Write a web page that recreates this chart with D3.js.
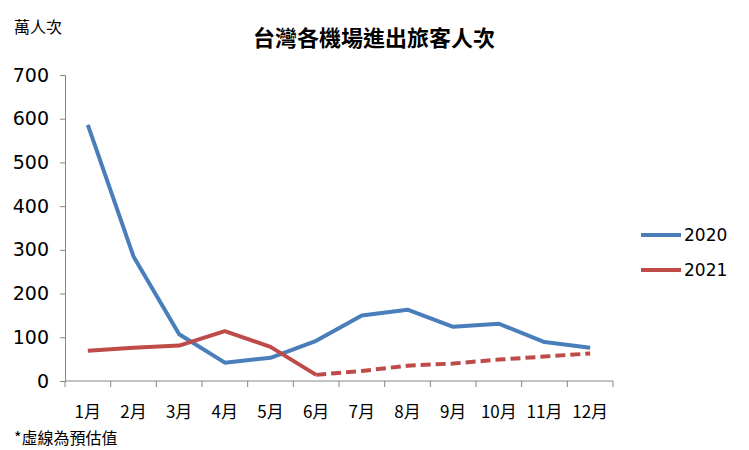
<!DOCTYPE html>
<html><head><meta charset="utf-8">
<script src="https://cdn.jsdelivr.net/npm/d3@7"></script>
<style>
body{margin:0;background:#fff;}
text{font-family:"DejaVu Sans","Noto Sans CJK TC",sans-serif;fill:#000;}
</style></head>
<body><svg id="c" width="749" height="450"></svg>
<script>
const months = ["1月","2月","3月","4月","5月","6月","7月","8月","9月","10月","11月","12月"];
const yTicks = [0,100,200,300,400,500,600,700];
const series2020 = [586,285,107,42,53,92,150,163,124,131,89,76];
const series2021Actual = [69,76,81,114,78,14];
const series2021Estimate = [null,null,null,null,null,14,23,35,40,49,56,63];
const seriesNames = ["2020","2021"];
const colors = ["#4A7EBB","#BE4B48"];

const svg = d3.select("#c");
const pLeft = 65, pRight = 613, pTop = 75, pBottom = 381;

const x = d3.scaleBand().domain(months).range([pLeft,pRight]);
const y = d3.scaleLinear().domain([0,700]).range([pBottom,pTop]);

// Title
svg.append("text").attr("x",374).attr("y",46).attr("text-anchor","middle")
  .style("font-size","22px").style("font-weight","bold")
  .style("font-family","'Noto Sans CJK TC',sans-serif").text("台灣各機場進出旅客人次");
svg.append("text").attr("x",14).attr("y",33)
  .style("font-size","16px").style("font-family","'Noto Sans CJK TC',sans-serif").text("萬人次");
svg.append("text").attr("x",14).attr("y",444)
  .style("font-size","16px").style("font-family","'Noto Sans CJK TC',sans-serif").text("*虛線為預估值");

// Y axis
const yAxis = svg.append("g").attr("transform",`translate(${pLeft},0)`)
  .call(d3.axisLeft(y).tickValues(yTicks).tickSize(5).tickPadding(11));
yAxis.selectAll("text").style("font-size","19px").style("font-family","'DejaVu Sans',sans-serif");
yAxis.select(".domain").attr("stroke","#868686");
yAxis.selectAll(".tick line").attr("stroke","#868686");

// X axis
const xAxis = svg.append("g").attr("transform",`translate(0,${pBottom})`);
xAxis.append("line").attr("x1",pLeft).attr("x2",pRight).attr("y1",0).attr("y2",0).attr("stroke","#868686");
const bounds = months.map(m=>x(m)).concat([pRight]);
xAxis.selectAll("line.tk").data(bounds).enter().append("line").attr("class","tk")
  .attr("x1",d=>d).attr("x2",d=>d).attr("y1",0).attr("y2",6).attr("stroke","#868686");
xAxis.selectAll("text").data(months).enter().append("text")
  .attr("x",d=>x(d)+x.bandwidth()/2).attr("y",37).attr("text-anchor","middle")
  .style("font-size","17px").style("font-family","'Noto Sans CJK TC',sans-serif").text(d=>d);

const cx = (d,i)=>x(months[i])+x.bandwidth()/2;
const line = d3.line().defined(d=>d!==null).x(cx).y(d=>y(d));

svg.append("path").datum(series2020).attr("d",line).attr("fill","none")
  .attr("stroke",colors[0]).attr("stroke-width",4).attr("stroke-linejoin","round");
svg.append("path").datum(series2021Actual).attr("d",line).attr("fill","none")
  .attr("stroke",colors[1]).attr("stroke-width",4).attr("stroke-linejoin","round");
svg.append("path").datum(series2021Estimate).attr("d",line).attr("fill","none")
  .attr("stroke",colors[1]).attr("stroke-width",4).attr("stroke-dasharray","10,5");

// Legend
const lg = svg.append("g");
seriesNames.forEach((n,i)=>{
  const ly = 235 + i*35;
  lg.append("line").attr("x1",641).attr("x2",681).attr("y1",ly).attr("y2",ly)
    .attr("stroke",colors[i]).attr("stroke-width",4);
  lg.append("text").attr("x",684).attr("y",ly+6).style("font-size","17px").text(n);
});
</script></body></html>
